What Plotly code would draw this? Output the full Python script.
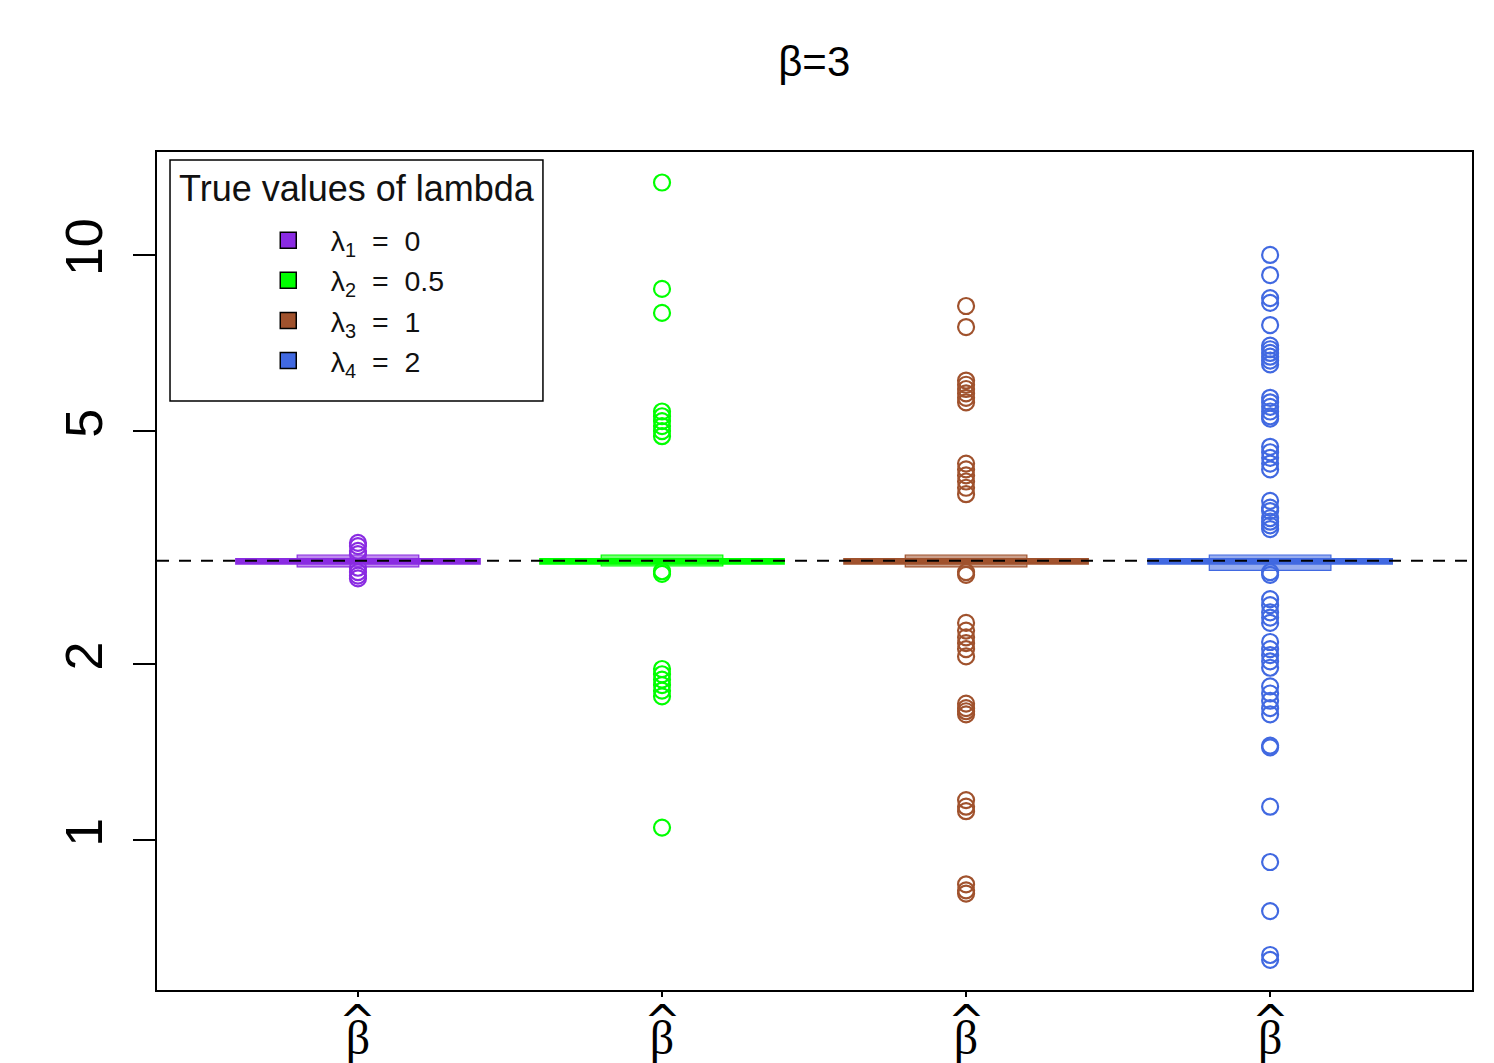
import plotly.graph_objects as go

# ---------------- data ----------------
groups = [1, 2, 3, 4]
group_names = ["λ<sub>1</sub>\u00a0\u00a0=\u00a0\u00a00", "λ<sub>2</sub>\u00a0\u00a0=\u00a0\u00a00.5",
               "λ<sub>3</sub>\u00a0\u00a0=\u00a0\u00a01", "λ<sub>4</sub>\u00a0\u00a0=\u00a0\u00a02"]
colors = ["#8A2BE2", "#00FF00", "#A0522D", "#4169E1"]
fills = ["rgba(138,43,226,0.55)", "rgba(0,255,0,0.55)", "rgba(160,82,45,0.55)", "rgba(65,105,225,0.55)"]

q1 = [2.93, 2.94, 2.93, 2.89]
median = [3.0, 3.0, 3.0, 3.0]
q3 = [3.07, 3.07, 3.07, 3.07]
lower_whisker = [2.97, 2.97, 2.97, 2.97]
upper_whisker = [3.02, 3.02, 3.02, 3.02]

outliers_1 = [3.22, 3.18, 3.12, 3.08, 2.92, 2.87, 2.83, 2.80]
outliers_2 = [13.3, 8.75, 7.96, 5.4, 5.3, 5.2, 5.1, 5.0, 4.9, 2.88, 2.85,
              1.96, 1.92, 1.88, 1.84, 1.80, 1.76, 1.05]
outliers_3 = [8.18, 7.53, 6.1, 6.0, 5.9, 5.8, 5.7, 5.6, 4.4, 4.3, 4.2, 4.1, 4.0, 3.9,
              2.87, 2.84, 2.35, 2.28, 2.22, 2.17, 2.12, 2.06, 1.71, 1.68, 1.66, 1.64,
              1.17, 1.14, 1.12, 0.84, 0.82, 0.81]
outliers_4 = [10.0, 9.24, 8.44, 8.28, 7.59, 7.0, 6.9, 6.8, 6.7, 6.6, 6.5,
              5.7, 5.6, 5.5, 5.4, 5.3, 5.25, 4.7, 4.6, 4.5, 4.4, 4.3,
              3.8, 3.7, 3.65, 3.55, 3.5, 3.45, 3.4, 2.87, 2.84,
              2.58, 2.52, 2.45, 2.40, 2.35, 2.18, 2.12, 2.07, 2.02, 1.97,
              1.83, 1.78, 1.73, 1.68, 1.64, 1.45, 1.44, 1.14, 0.917, 0.756, 0.636, 0.624]
outliers = [outliers_1, outliers_2, outliers_3, outliers_4]

true_beta = 3
y_tick_vals = [1, 2, 5, 10]
x_tick_text = ["β"] * 4
x_hat = "^"
title_text = "β=3"
legend_title = "True values of lambda"

FONT = "Liberation Sans, Arial, Helvetica, sans-serif"

fig = go.Figure()

for i, g in enumerate(groups):
    # staples (wide, thick)
    fig.add_trace(go.Box(
        x=[g], q1=[lower_whisker[i]], median=[median[i]], q3=[upper_whisker[i]],
        lowerfence=[lower_whisker[i]], upperfence=[upper_whisker[i]],
        width=0.8, fillcolor=colors[i], line=dict(color=colors[i], width=2.5),
        boxpoints=False, showlegend=False, hoverinfo="skip"))
    # box
    fig.add_trace(go.Box(
        x=[g], q1=[q1[i]], median=[median[i]], q3=[q3[i]],
        lowerfence=[lower_whisker[i]], upperfence=[upper_whisker[i]],
        width=0.4, fillcolor=fills[i], line=dict(color=colors[i], width=1.2),
        whiskerwidth=1, boxpoints=False, showlegend=False))
    # outliers
    fig.add_trace(go.Scatter(
        x=[g] * len(outliers[i]), y=outliers[i], mode="markers",
        marker=dict(symbol="circle-open", size=16, color=colors[i], line=dict(width=2.2)),
        showlegend=False))

# legend entries
for i, g in enumerate(groups):
    fig.add_trace(go.Scatter(
        x=[None], y=[None], mode="markers", name=group_names[i],
        marker=dict(symbol="square", size=16, color=colors[i], line=dict(color="black", width=1.5)),
        showlegend=True))

fig.add_shape(type="line", xref="paper", x0=0, x1=1, yref="y", y0=true_beta, y1=true_beta,
              line=dict(color="black", width=2, dash="12px,10px"), layer="above")

# legend frame + title
fig.add_shape(type="rect", xref="paper", yref="paper", x0=0.0099, x1=0.2935, y0=0.703, y1=0.9905,
              line=dict(color="black", width=1.5), fillcolor="white", layer="below")
fig.add_annotation(text=legend_title, xref="paper", yref="paper", x=0.0152, y=0.956,
                   xanchor="left", yanchor="middle", showarrow=False,
                   font=dict(size=36, color="#111111", family=FONT))

# hats above the beta tick labels
for g in groups:
    fig.add_annotation(text=x_hat, xref="x", yref="paper", x=g, y=-0.003,
                       xanchor="center", yanchor="top", showarrow=False,
                       font=dict(size=44, color="black", family="DejaVu Sans"))

fig.update_layout(
    width=1494, height=1063,
    margin=dict(l=157, r=22, t=152, b=73),
    paper_bgcolor="white", plot_bgcolor="rgba(0,0,0,0)",
    font=dict(family=FONT, color="black"),
    title=dict(text=title_text, x=0.545, xanchor="center", y=0.942, yanchor="middle",
               font=dict(size=42, color="black", family=FONT)),
    showlegend=True,
    legend=dict(x=0.0675, y=0.9245, xanchor="left", yanchor="top", bgcolor="rgba(0,0,0,0)",
                borderwidth=0, itemwidth=75, font=dict(size=28.5, color="#111111", family=FONT),
                tracegroupgap=0),
    xaxis=dict(range=[0.339, 4.664], tickmode="array", tickvals=groups, ticktext=x_tick_text,
               ticks="outside", ticklen=5, tickwidth=1.5, tickcolor="black",
               ticklabelstandoff=0,
               tickfont=dict(size=48, color="black", family="Liberation Serif"),
               showline=True, linecolor="black", linewidth=1.5, mirror=True,
               showgrid=False, zeroline=False, automargin=False),
    yaxis=dict(type="log", range=[-0.2564, 1.176], tickmode="array", tickvals=y_tick_vals,
               ticktext=[str(v) for v in y_tick_vals], tickangle=-90,
               ticks="outside", ticklen=22, tickwidth=1.5, tickcolor="black",
               ticklabelstandoff=10,
               tickfont=dict(size=52, color="black", family=FONT),
               showline=True, linecolor="black", linewidth=1.5, mirror=True,
               showgrid=False, zeroline=False, automargin=False),
)

fig.write_html("out.html")
